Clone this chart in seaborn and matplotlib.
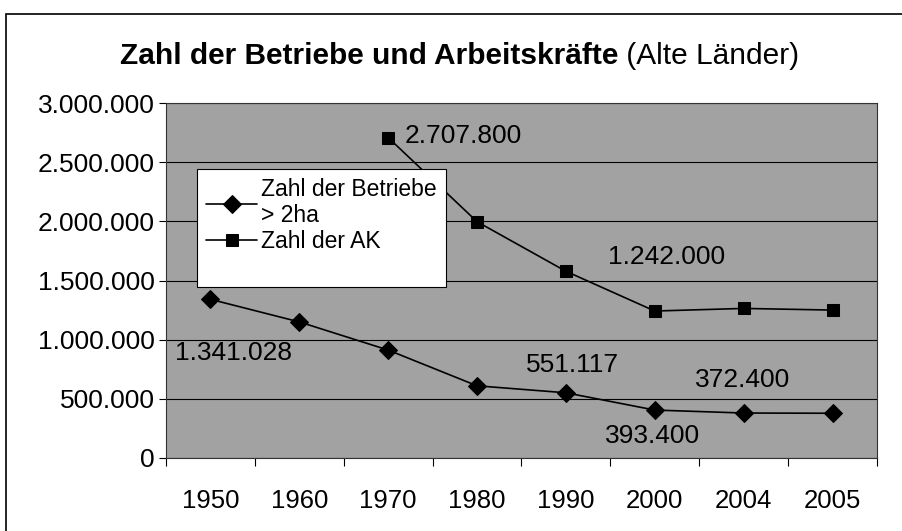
import pandas as pd
import numpy as np
import seaborn as sns
import matplotlib.pyplot as plt
from matplotlib.patches import Rectangle
from matplotlib.lines import Line2D

# Daten
jahre = ['1950', '1960', '1970', '1980', '1990', '2000', '2004', '2005']
betriebe = [1341028, 1150000, 912000, 610000, 551117, 405000, 380000, 378000]
ak_jahre = ['1970', '1980', '1990', '2000', '2004', '2005']
ak = [2707800, 1997000, 1578000, 1242000, 1264000, 1250000]

# Beschriftungen der Datenpunkte
label_betriebe = {'1950': '1.341.028', '1990': '551.117', '2000': '393.400', '2004': '372.400'}
label_ak = {'1970': '2.707.800', '2000': '1.242.000'}

sns.set_theme(style='white')
plt.rcParams['font.family'] = ['Liberation Sans', 'DejaVu Sans']
plt.rcParams['text.color'] = 'black'
plt.rcParams['xtick.color'] = 'black'
plt.rcParams['ytick.color'] = 'black'

df_b = pd.DataFrame({'jahr': jahre, 'wert': betriebe})
df_b['pos'] = [jahre.index(j) for j in df_b['jahr']]
df_a = pd.DataFrame({'jahr': ak_jahre, 'wert': ak})
df_a['pos'] = [jahre.index(j) for j in df_a['jahr']]

fig = plt.figure(figsize=(9.03, 5.31), dpi=100)
ax = fig.add_axes([0.1838, 0.1375, 0.7874, 0.6685])
ax.set_facecolor('#a2a2a2')

sns.lineplot(data=df_b, x='pos', y='wert', ax=ax, color='black', marker='D',
             markersize=9, linewidth=1.2, markeredgecolor='black',
             label='Zahl der Betriebe\n> 2ha')
sns.lineplot(data=df_a, x='pos', y='wert', ax=ax, color='black', marker='s',
             markersize=9, linewidth=1.2, markeredgecolor='black',
             label='Zahl der AK')

ax.set_xlim(-0.5, len(jahre) - 0.5)
ax.set_ylim(0, 3000000)
ax.set_yticks(np.arange(0, 3000001, 500000))
ax.set_yticklabels(['0' if v == 0 else f'{v:,}'.replace(',', '.') for v in np.arange(0, 3000001, 500000)])
ax.set_xticks(range(len(jahre)))
ax.set_xticklabels(jahre)
ax.set_xticks(np.arange(-0.5, len(jahre), 1), minor=True)
ax.tick_params(axis='x', which='major', length=0, pad=22, labelsize=18.5)
ax.tick_params(axis='x', which='minor', length=6, width=0.8, color='black', direction='out', bottom=True)
ax.tick_params(axis='y', length=5, width=0.8, color='black', direction='out', left=True, labelsize=19, pad=3)
ax.grid(axis='y', color='black', linewidth=0.8)
ax.set_axisbelow(True)
ax.set_xlabel('')
ax.set_ylabel('')
for s in ax.spines.values():
    s.set_color('#333333')
    s.set_linewidth(0.8)

# Datenbeschriftungen
off_b = {'1950': (23, -54), '1990': (7, 28), '2000': (-2, -26), '2004': (-1, 33)}
for j, txt in label_betriebe.items():
    i = jahre.index(j)
    ax.annotate(txt, xy=(i, betriebe[i]), xytext=off_b[j], textcoords='offset pixels',
                ha='center', va='center', fontsize=19)
off_a = {'1970': (16, 2), '2000': (12, 54)}
for j, txt in label_ak.items():
    i = ak_jahre.index(j)
    ha = 'left' if j == '1970' else 'center'
    ax.annotate(txt, xy=(jahre.index(j), ak[i]), xytext=off_a[j], textcoords='offset pixels',
                ha=ha, va='center', fontsize=19)

# Legende mit leerer Zeile unten (wie im Original)
handles, labels = ax.get_legend_handles_labels()
handles.append(Line2D([], [], linestyle='none'))
labels.append(' ')
leg = ax.legend(handles, labels, loc='upper left', bbox_to_anchor=(0.044, 0.815), fontsize=16.5,
                frameon=True, fancybox=False, framealpha=1, facecolor='white',
                edgecolor='black', handlelength=2.2, borderpad=0.4,
                labelspacing=0.1, handletextpad=0.2, borderaxespad=0)
leg.get_frame().set_linewidth(0.8)

# Titel: fett + normal
t1 = fig.text(0.133, 0.88, 'Zahl der Betriebe und Arbeitskräfte', fontsize=21.5,
              fontweight='bold', ha='left', va='baseline')
ax.annotate(' (Alte Länder)', xy=(1, 0), xycoords=t1, xytext=(0, 0),
            textcoords='offset points', fontsize=21.5, ha='left', va='bottom')

# Rahmen um die ganze Grafik
fig.patches.append(Rectangle((0.007, -0.1), 1.5, 0.1 + (531 - 14) / 531, transform=fig.transFigure,
                             fill=False, edgecolor='black', linewidth=1.2))

fig.savefig('out.png', dpi=100)
